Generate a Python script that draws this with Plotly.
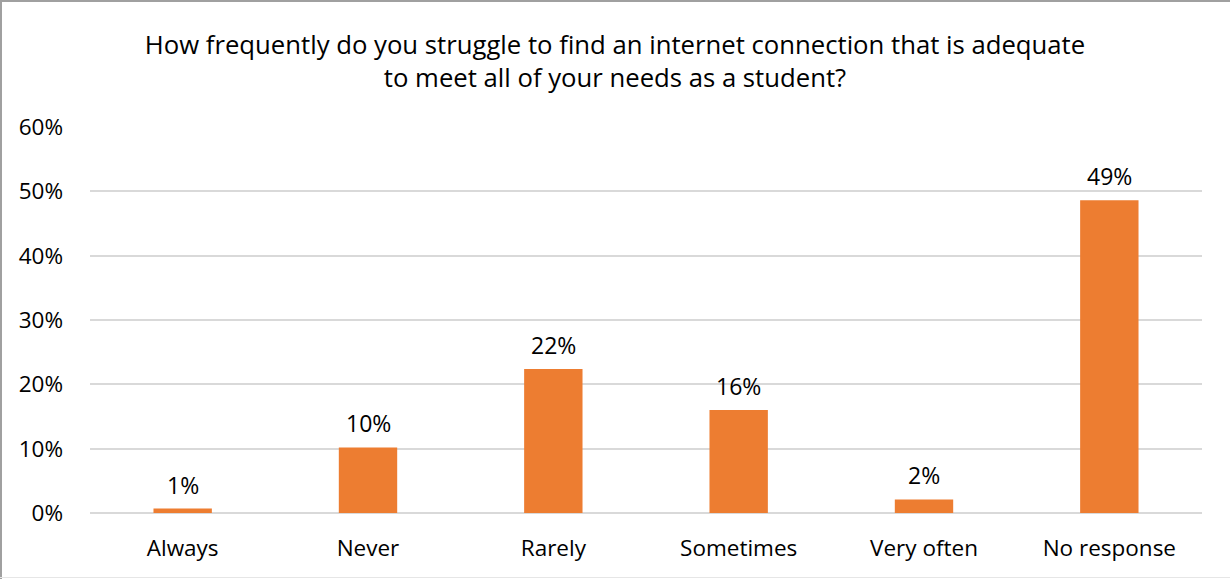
import plotly.graph_objects as go

categories = ["Always", "Never", "Rarely", "Sometimes", "Very often", "No response"]
values = [0.007, 0.102, 0.224, 0.160, 0.021, 0.486]
labels = ["1%", "10%", "22%", "16%", "2%", "49%"]
y_ticks = [0, 0.1, 0.2, 0.3, 0.4, 0.5, 0.6]
y_tick_labels = ["0%", "10%", "20%", "30%", "40%", "50%", "60%"]
title_text = ("How frequently do you struggle to find an internet connection that is adequate"
              "<br>to meet all of your needs as a student?")

W, H = 1230, 579
ml, mr, mt, mb = 90, 28, 127, 66
pw, ph = W - ml - mr, H - mt - mb

FONT = "Open Sans"

fig = go.Figure()
fig.add_trace(go.Bar(
    x=categories, y=values,
    marker=dict(color="#ED7D31", line=dict(width=0)),
    width=0.315,
    hoverinfo="skip",
))

for c, v, t in zip(categories, values, labels):
    fig.add_annotation(x=c, y=v, text=t, showarrow=False, yanchor="bottom",
                       yshift=6, font=dict(family=FONT, size=23, color="#000000"))

def px_x(p):
    return (p - ml) / pw

def px_y(p):
    return (H - mb - p) / ph

shapes = [
    dict(type="line", xref="paper", yref="paper", x0=px_x(0), x1=px_x(W), y0=px_y(1), y1=px_y(1),
         line=dict(color="#a0a0a0", width=2)),
    dict(type="line", xref="paper", yref="paper", x0=px_x(1), x1=px_x(1), y0=px_y(0), y1=px_y(H),
         line=dict(color="#a0a0a0", width=2)),
    dict(type="line", xref="paper", yref="paper", x0=px_x(0), x1=px_x(W), y0=px_y(577.5), y1=px_y(577.5),
         line=dict(color="#e6e6e6", width=1)),
]

fig.update_layout(
    width=W, height=H,
    margin=dict(l=ml, r=mr, t=mt, b=mb),
    paper_bgcolor="white", plot_bgcolor="white",
    showlegend=False,
    shapes=shapes,
    title=dict(text=title_text, x=0.5, xref="container", xanchor="center",
               y=1 - 53.5 / H, yanchor="middle",
               font=dict(family=FONT, size=25.7, color="#000000")),
    xaxis=dict(tickfont=dict(family=FONT, size=22.5, color="#000000"),
               showgrid=False, showline=False, ticks="", ticklabelstandoff=19),
    yaxis=dict(range=[0, 0.6], tickvals=y_ticks, ticktext=y_tick_labels,
               tickfont=dict(family=FONT, size=22.5, color="#000000"),
               showgrid=True, gridcolor="#d9d9d9", gridwidth=1.5,
               zeroline=True, zerolinecolor="#d9d9d9", zerolinewidth=1.5,
               showline=False, ticks="", ticklabelstandoff=26),
    bargap=0.685,
)

fig.write_html("out.html", config={"displayModeBar": False},
               post_script="document.body.style.margin='0';")
